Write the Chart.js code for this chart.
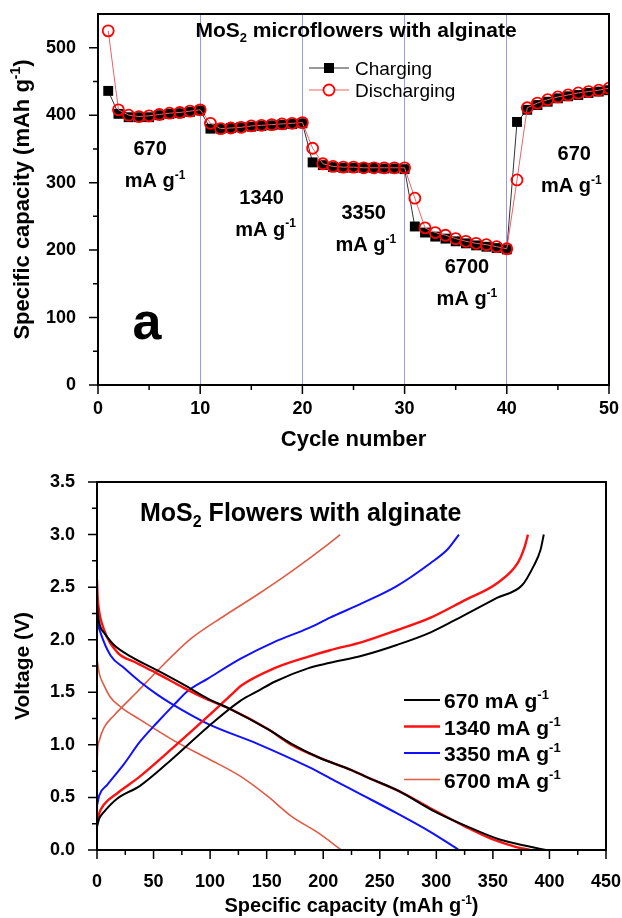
<!DOCTYPE html>
<html lang="en">
<head>
<meta charset="UTF-8">
<title>MoS2 microflowers with alginate</title>
<script src="https://cdn.jsdelivr.net/npm/chart.js"></script>
<style>
  html, body { margin: 0; padding: 0; background: #fff; }
  #wrap { position: relative; width: 622px; height: 918px; }
  .panel { position: absolute; left: 0; width: 622px; }
</style>
</head>
<body>
<div id="wrap">
  <div class="panel" style="top:0;height:455px"><canvas id="rateChart"></canvas></div>
  <div class="panel" style="top:455px;height:463px"><canvas id="voltChart"></canvas></div>
</div>

<script>
// ---------- panel a: rate capability ----------
const cycles = [1,2,3,4,5,6,7,8,9,10,11,12,13,14,15,16,17,18,19,20,21,22,23,24,25,
                26,27,28,29,30,31,32,33,34,35,36,37,38,39,40,41,42,43,44,45,46,47,48,49,50];
const charging = [436,402,397,397,397,400,402,403,405,407,
                  380,380,381,382,383,384,385,386,387,388,
                  330,326,323,322,322,322,322,321,321,320,
                  235,226,220,217,213,210,207,205,203,201,
                  390,408,415,420,425,428,430,433,435,437];
const discharging = [525,408,400,398,399,401,403,404,406,408,
                     388,380,381,382,384,385,386,387,388,389,
                     351,328,324,323,323,322,322,322,322,322,
                     277,233,226,222,217,213,210,208,205,202,
                     304,411,418,423,427,430,433,435,437,440];
const rateXTicks = [0, 10, 20, 30, 40, 50];
const rateXMinor = [5, 15, 25, 35, 45];
const rateYTicks = [0, 100, 200, 300, 400, 500];
const rateYMinor = [50, 150, 250, 350, 450];
const rateSwitch = [10, 20, 30, 40];
const rateLabels = ['670', '1340', '3350', '6700', '670'];

// ---------- panel b: voltage profiles ----------
const dis670Cap = [0, 1, 3, 6, 15, 30, 53, 77, 98, 118, 151, 172, 196, 225, 237, 267, 296, 326, 356, 379, 397];
const dis670V   = [2.35, 2.22, 2.12, 2.07, 1.95, 1.84, 1.71, 1.57, 1.44, 1.34, 1.15, 1.01, 0.88, 0.76, 0.70, 0.56, 0.38, 0.23, 0.10, 0.04, 0.00];
const chg670Cap = [0, 2, 6, 18, 38, 68, 98, 127, 142, 157, 187, 206, 235, 265, 295, 324, 354, 376, 386, 392, 395];
const chg670V   = [0.22, 0.30, 0.36, 0.49, 0.61, 0.88, 1.17, 1.42, 1.51, 1.60, 1.73, 1.78, 1.85, 1.95, 2.07, 2.23, 2.40, 2.52, 2.70, 2.85, 3.00];

const dis1340Cap = [0, 0.5, 1.5, 6, 18, 33, 53, 77, 98, 118, 151, 172, 196, 225, 237, 267, 296, 326, 350, 370, 383];
const dis1340V   = [2.57, 2.42, 2.30, 2.10, 1.88, 1.79, 1.68, 1.54, 1.43, 1.34, 1.15, 1.00, 0.88, 0.76, 0.70, 0.56, 0.39, 0.22, 0.10, 0.03, 0.00];
const chg1340Cap = [0, 2, 6, 18, 38, 68, 98, 121, 127, 157, 187, 206, 235, 265, 295, 324, 354, 372, 378, 381];
const chg1340V   = [0.25, 0.35, 0.43, 0.54, 0.70, 0.98, 1.27, 1.50, 1.56, 1.73, 1.84, 1.90, 1.98, 2.09, 2.21, 2.37, 2.54, 2.73, 2.88, 3.00];

const dis3350Cap = [0, 1, 3, 12, 24, 38, 53, 66, 98, 142, 187, 210, 235, 265, 295, 320];
const dis3350V   = [2.26, 2.15, 2.07, 1.85, 1.73, 1.60, 1.48, 1.39, 1.20, 1.01, 0.79, 0.66, 0.52, 0.35, 0.17, 0.00];
const chg3350Cap = [0, 2, 9, 24, 38, 53, 68, 80, 98, 127, 157, 187, 206, 235, 265, 295, 310, 320];
const chg3350V   = [0.42, 0.52, 0.62, 0.82, 1.03, 1.21, 1.38, 1.51, 1.63, 1.82, 1.98, 2.11, 2.21, 2.35, 2.51, 2.73, 2.86, 3.00];

const dis6700Cap = [0, 2, 6, 12, 21, 38, 68, 98, 127, 151, 172, 196, 216];
const dis6700V   = [1.82, 1.68, 1.57, 1.45, 1.36, 1.24, 1.04, 0.87, 0.70, 0.51, 0.32, 0.16, 0.00];
const chg6700Cap = [0, 0.5, 2, 6, 15, 24, 36, 53, 83, 113, 142, 172, 201, 215];
const chg6700V   = [0.80, 0.95, 1.04, 1.16, 1.28, 1.38, 1.51, 1.70, 2.01, 2.23, 2.43, 2.65, 2.88, 3.00];

const rateNames = ['670 mA g-1', '1340 mA g-1', '3350 mA g-1', '6700 mA g-1'];
const voltXTicks = [0, 50, 100, 150, 200, 250, 300, 350, 400, 450];
const voltXMinor = [25, 75, 125, 175, 225, 275, 325, 375, 425];
const voltYTicks = [0, 0.5, 1, 1.5, 2, 2.5, 3, 3.5];
const voltYMinor = [0.25, 0.75, 1.25, 1.75, 2.25, 2.75, 3.25];

// ---------- helpers ----------
const FAM = '"Liberation Sans", Arial, Helvetica, sans-serif';
Chart.defaults.font.family = FAM;
Chart.defaults.color = '#000';

// parts: [[text, ''|'sup'|'sub'], ...], y is the baseline
function drawRich(ctx, parts, x, y, size, align, weight) {
  weight = weight || 'bold';
  const small = Math.round(size * 0.62);
  let w = 0;
  parts.forEach(p => {
    ctx.font = weight + ' ' + (p[1] ? small : size) + 'px ' + FAM;
    w += ctx.measureText(p[0]).width;
  });
  let cx = align === 'center' ? x - w / 2 : (align === 'right' ? x - w : x);
  ctx.textAlign = 'left';
  ctx.textBaseline = 'alphabetic';
  ctx.fillStyle = '#000';
  parts.forEach(p => {
    ctx.font = weight + ' ' + (p[1] ? small : size) + 'px ' + FAM;
    const dy = p[1] === 'sup' ? -size * 0.42 : (p[1] === 'sub' ? size * 0.22 : 0);
    ctx.fillText(p[0], cx, y + dy);
    cx += ctx.measureText(p[0]).width;
  });
}

function unitParts(s) {
  // 'xxx mA g-1' -> superscript the -1
  const i = s.indexOf('-1');
  return [[s.slice(0, i), ''], ['-1', 'sup']];
}

function drawFrameAndTicks(chart, xMinor, yMinor) {
  const { ctx, chartArea: a, scales: { x, y } } = chart;
  ctx.save();
  ctx.strokeStyle = '#000';
  ctx.lineWidth = 1.5;
  ctx.beginPath();
  x.ticks.forEach(t => { const p = x.getPixelForValue(t.value); ctx.moveTo(p, a.bottom); ctx.lineTo(p, a.bottom + 9); });
  xMinor.forEach(v => { const p = x.getPixelForValue(v); ctx.moveTo(p, a.bottom); ctx.lineTo(p, a.bottom + 5); });
  y.ticks.forEach(t => { const p = y.getPixelForValue(t.value); ctx.moveTo(a.left, p); ctx.lineTo(a.left - 9, p); });
  yMinor.forEach(v => { const p = y.getPixelForValue(v); ctx.moveTo(a.left, p); ctx.lineTo(a.left - 5, p); });
  ctx.stroke();
  ctx.lineWidth = 2;
  ctx.strokeRect(a.left, a.top, a.right - a.left, a.bottom - a.top);
  ctx.restore();
}

function drawVerticalTitle(ctx, parts, cx, cy, size) {
  ctx.save();
  ctx.translate(cx, cy);
  ctx.rotate(-Math.PI / 2);
  drawRich(ctx, parts, 0, size * 0.36, size, 'center');
  ctx.restore();
}

// keep the plot box where the layout padding puts it
const fitX = h => s => { s.height = h; s.paddingLeft = 0; s.paddingRight = 0; };
const fitY = w => s => { s.width = w; s.paddingTop = 0; s.paddingBottom = 0; };

// ---------- panel a chart ----------
const rateDecor = {
  id: 'rateDecor',
  afterDraw(chart) {
    const { ctx, chartArea: a, scales: { x, y } } = chart;
    drawFrameAndTicks(chart, rateXMinor, rateYMinor);

    // title inside plot
    drawRich(ctx, [['MoS', ''], ['2', 'sub'], [' microflowers with alginate', '']], 356, 37, 21, 'center');

    // legend (uses the dataset styles)
    const ds = chart.data.datasets;
    [0, 1].forEach(i => {
      const d = ds[i], ly = 68 + i * 22;
      ctx.save();
      ctx.strokeStyle = d.borderColor; ctx.lineWidth = 1;
      ctx.beginPath(); ctx.moveTo(309, ly); ctx.lineTo(349, ly); ctx.stroke();
      if (d.pointStyle === 'rect') {
        ctx.fillStyle = d.pointBackgroundColor;
        ctx.fillRect(324, ly - 5, 10, 10);
      } else {
        ctx.strokeStyle = d.pointBorderColor; ctx.lineWidth = d.pointBorderWidth;
        ctx.fillStyle = '#fff';
        ctx.beginPath(); ctx.arc(329, ly, d.pointRadius, 0, Math.PI * 2); ctx.fill(); ctx.stroke();
      }
      ctx.restore();
      drawRich(ctx, [[d.label, '']], 355, ly + 7, 19, 'left', 'normal');
    });

    // current-density notes, placed in data units (x, y, shift of the unit line)
    const notes = [[5.1, 351, 5], [16.0, 279, 4], [26.0, 256, 2], [36.1, 176, 0], [46.6, 344, -3]];
    notes.forEach((n, i) => {
      const px = x.getPixelForValue(n[0]), py = y.getPixelForValue(n[1]);
      drawRich(ctx, [[rateLabels[i], '']], px, py + 7, 20, 'center');
      drawRich(ctx, [['mA g', ''], ['-1', 'sup']], px + n[2], py + 39, 20, 'center');
    });

    // panel letter
    drawRich(ctx, [['a', '']], 147, 339, 52, 'center');

    // axis titles
    drawVerticalTitle(ctx, [['Specific capacity (mAh g', ''], ['-1', 'sup'], [')', '']], 21, (a.top + a.bottom) / 2, 22);
    drawRich(ctx, [['Cycle number', '']], (a.left + a.right) / 2, 446, 22, 'center');
  }
};

new Chart(document.getElementById('rateChart'), {
  type: 'line',
  data: {
    datasets: [
      {
        label: 'Charging',
        data: cycles.map((c, i) => ({ x: c, y: charging[i] })),
        borderColor: '#333333', borderWidth: 1,
        pointStyle: 'rect', pointRadius: 7,
        pointBackgroundColor: '#000000', pointBorderColor: '#000000', pointBorderWidth: 0,
        order: 2
      },
      {
        label: 'Discharging',
        data: cycles.map((c, i) => ({ x: c, y: discharging[i] })),
        borderColor: '#f06262', borderWidth: 1,
        pointStyle: 'circle', pointRadius: 5.5,
        pointBackgroundColor: 'rgba(0,0,0,0)', pointBorderColor: '#ff0000', pointBorderWidth: 1.8,
        order: 1
      }
    ]
  },
  options: {
    responsive: true, maintainAspectRatio: false, animation: false,
    layout: { padding: { top: 14, right: 13, left: 0, bottom: 0 } },
    plugins: { legend: { display: false }, tooltip: { enabled: false } },
    scales: {
      x: {
        type: 'linear', min: 0, max: 50,
        afterBuildTicks: s => { s.ticks = rateXTicks.map(v => ({ value: v })); },
        afterFit: fitX(70),
        grid: {
          drawTicks: false, drawOnChartArea: true, lineWidth: 1,
          color: c => rateSwitch.includes(c.tick && c.tick.value) ? '#9a9ae8' : 'rgba(0,0,0,0)'
        },
        border: { display: false },
        ticks: { padding: 13, font: { size: 18, weight: 'bold' }, maxRotation: 0 }
      },
      y: {
        type: 'linear', min: 0, max: 550,
        afterBuildTicks: s => { s.ticks = rateYTicks.map(v => ({ value: v })); },
        afterFit: fitY(98),
        grid: { display: false },
        border: { display: false },
        ticks: { padding: 14, font: { size: 18, weight: 'bold' } }
      }
    }
  },
  plugins: [rateDecor]
});

// ---------- panel b chart ----------
const voltColors = ['#000000', '#ff1010', '#1010ff', '#e05a44'];
const voltWidths = [2, 2.4, 2, 1.6];
const voltCurves = [
  [dis670Cap, dis670V, chg670Cap, chg670V],
  [dis1340Cap, dis1340V, chg1340Cap, chg1340V],
  [dis3350Cap, dis3350V, chg3350Cap, chg3350V],
  [dis6700Cap, dis6700V, chg6700Cap, chg6700V]
];
const voltSets = [];
voltCurves.forEach((c, i) => {
  [[c[0], c[1], 'discharge'], [c[2], c[3], 'charge']].forEach(pair => {
    voltSets.push({
      label: rateNames[i] + ' ' + pair[2],
      data: pair[0].map((v, k) => ({ x: v, y: pair[1][k] })),
      borderColor: voltColors[i], borderWidth: voltWidths[i],
      pointRadius: 0, showLine: true, cubicInterpolationMode: 'monotone',
      order: i
    });
  });
});

const voltDecor = {
  id: 'voltDecor',
  afterDraw(chart) {
    const { ctx, chartArea: a } = chart;
    drawFrameAndTicks(chart, voltXMinor, voltYMinor);

    drawRich(ctx, [['MoS', ''], ['2', 'sub'], [' Flowers with alginate', '']], 140, 66, 25, 'left');

    rateNames.forEach((n, i) => {
      const ly = 245 + i * 26.5;
      ctx.save();
      ctx.strokeStyle = voltColors[i]; ctx.lineWidth = voltWidths[i];
      ctx.beginPath(); ctx.moveTo(404, ly); ctx.lineTo(440, ly); ctx.stroke();
      ctx.restore();
      drawRich(ctx, unitParts(n), 444, ly + 8, 21, 'left');
    });

    drawVerticalTitle(ctx, [['Voltage (V)', '']], 21, (a.top + a.bottom) / 2, 21);
    drawRich(ctx, [['Specific capacity (mAh g', ''], ['-1', 'sup'], [')', '']], (a.left + a.right) / 2, 457, 20, 'center');
  }
};

new Chart(document.getElementById('voltChart'), {
  type: 'scatter',
  data: { datasets: voltSets },
  options: {
    responsive: true, maintainAspectRatio: false, animation: false,
    layout: { padding: { top: 27, right: 16, left: 0, bottom: 0 } },
    plugins: { legend: { display: false }, tooltip: { enabled: false } },
    scales: {
      x: {
        type: 'linear', min: 0, max: 450,
        afterBuildTicks: s => { s.ticks = voltXTicks.map(v => ({ value: v })); },
        afterFit: fitX(68),
        grid: { display: false },
        border: { display: false },
        ticks: { padding: 13, font: { size: 18, weight: 'bold' }, maxRotation: 0 }
      },
      y: {
        type: 'linear', min: 0, max: 3.5,
        afterBuildTicks: s => { s.ticks = voltYTicks.map(v => ({ value: v })); },
        afterFit: fitY(97),
        grid: { display: false },
        border: { display: false },
        ticks: { padding: 14, font: { size: 18, weight: 'bold' }, callback: v => Number(v).toFixed(1) }
      }
    }
  },
  plugins: [voltDecor]
});
</script>
</body>
</html>
